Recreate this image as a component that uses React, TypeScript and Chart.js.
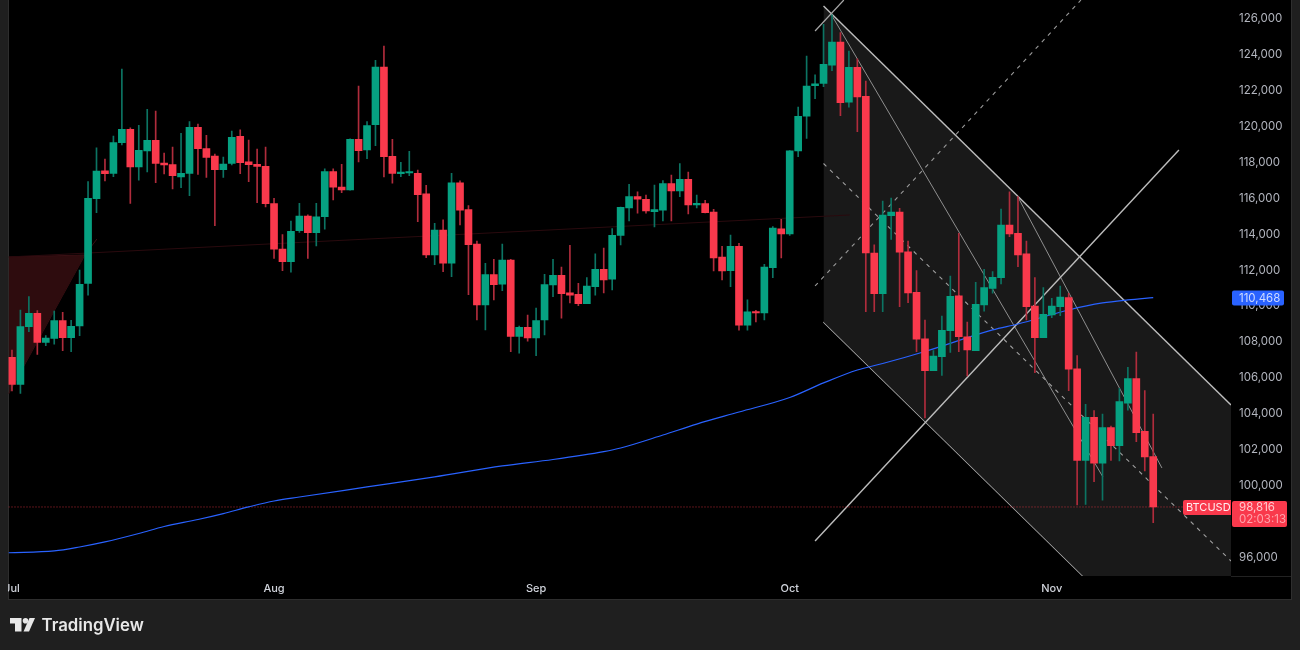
import { useEffect, useRef } from "react";
import { Chart, registerables, type Plugin } from "chart.js";

Chart.register(...registerables);

// daily BTCUSD candles, 1 Jul to 13 Nov
const opens = [
  107140, 105640, 108850, 109590, 107980, 108200, 109190, 108240, 108890, 111260,
  115970, 117530, 117380, 119090, 119830, 117740, 118630, 119220, 117960, 117870,
  117180, 117380, 119940, 118760, 118350, 117590, 117940, 119440, 118030, 117880,
  117770, 115700, 113170, 112470, 114190, 115010, 114080, 114970, 117480, 116620,
  116460, 119280, 118680, 120090, 123300, 118330, 117370, 117400, 117380, 116250,
  112840, 114230, 112390, 116850, 115360, 113450, 110060, 111750, 111210, 112560,
  108310, 108810, 108220, 109220, 111170, 111710, 110730, 110650, 110130, 111080,
  112040, 111500, 113930, 115460, 116090, 115940, 115250, 115340, 116810, 116400,
  117050, 115620, 115700, 115230, 112730, 111970, 113320, 108940, 109670, 109610,
  112130, 114290, 114010, 118630, 120570, 122260, 122390, 123410, 124690, 121340,
  123280, 121670, 112950, 110690, 115030, 115230, 113020, 110760, 108170, 106400,
  107180, 108630, 110560, 108290, 107520, 110060, 110980, 111580, 114510, 114040,
  112900, 110000, 108240, 109500, 109960, 110470, 106510, 101410, 103810, 101250,
  103230, 102230, 104600, 105960, 103030, 101620,
];
const closes = [
  105640, 108850, 109590, 107980, 108220, 109190, 108240, 108870, 111210, 115990,
  117510, 117370, 119090, 119830, 117740, 118660, 119220, 117940, 117850, 117250,
  117380, 119940, 118760, 118270, 117590, 117900, 119390, 117980, 117870, 117770,
  115700, 113170, 112470, 114160, 115010, 114080, 114970, 117480, 116620, 116460,
  119280, 118650, 120040, 123300, 118310, 117380, 117400, 117440, 116200, 112840,
  114230, 112390, 116850, 115340, 113410, 110060, 111750, 111190, 112560, 108310,
  108810, 108220, 109190, 111190, 111710, 110690, 110610, 110130, 111110, 112040,
  111450, 113930, 115490, 116090, 115940, 115290, 115360, 116810, 116400, 117050,
  115620, 115710, 115200, 112670, 111950, 113320, 108940, 109670, 109610, 112170,
  114340, 114010, 118630, 120560, 122240, 122370, 123450, 124690, 121320, 123280,
  121630, 112950, 110690, 115060, 115230, 112990, 110730, 108150, 106400, 107220,
  108650, 110540, 108290, 107550, 110090, 111020, 111600, 114510, 114010, 112840,
  109960, 108240, 109540, 110000, 110500, 106480, 101410, 103810, 101250, 103230,
  102230, 104680, 105960, 102950, 101600, 98816,
];
const highs = [
  107550, 109780, 110520, 109740, 108350, 109720, 109650, 109200, 112000, 116920,
  118810, 118180, 119460, 123190, 119910, 120060, 120950, 120850, 118510, 118850,
  119610, 120260, 120130, 119500, 118460, 118290, 119740, 119800, 119240, 118740,
  118850, 115990, 113970, 114730, 115710, 115070, 115710, 117630, 117630, 117880,
  119300, 122240, 120260, 123670, 124470, 119280, 118000, 118610, 117570, 116720,
  114600, 114790, 117380, 116960, 115590, 113620, 112380, 112600, 113450, 112600,
  108890, 109500, 109890, 111760, 112600, 112170, 113380, 111260, 111580, 112900,
  113230, 114310, 115500, 116770, 116350, 116180, 116730, 116980, 117290, 117920,
  117460, 116180, 115880, 115380, 113320, 113950, 113490, 110340, 109760, 112320,
  114420, 114820, 118650, 121070, 123910, 122860, 125680, 126200, 125210, 124190,
  123750, 122520, 113400, 115840, 116010, 115440, 113620, 111970, 109220, 107520,
  109440, 111670, 114040, 109110, 111320, 112040, 111910, 115400, 116360, 116090,
  113620, 111580, 111020, 110430, 111110, 110710, 107240, 104530, 104180, 103990,
  103320, 105420, 106590, 107440, 105290, 103990,
];
const lows = [
  105270, 105140, 108570, 107310, 107790, 107870, 107510, 107460, 108350, 110610,
  115200, 116960, 117200, 118960, 115710, 117010, 117460, 116870, 117350, 116510,
  116590, 116140, 117330, 117160, 114470, 117160, 117850, 117370, 116920, 115750,
  115510, 112650, 111970, 111890, 114100, 112650, 113340, 114270, 115900, 116310,
  116440, 118020, 118200, 118920, 117180, 116830, 117200, 117250, 114690, 112690,
  112300, 111910, 111630, 114510, 110630, 109220, 108670, 110340, 110850, 107460,
  107370, 108050, 107240, 108390, 110520, 109330, 110170, 110020, 110130, 110600,
  110730, 110890, 113400, 114730, 115160, 115160, 114400, 114730, 114730, 116090,
  115120, 115460, 115180, 111950, 111450, 111080, 108650, 108650, 109110, 109220,
  111580, 112670, 113930, 118310, 119330, 121540, 122210, 123100, 120590, 121060,
  119700, 109690, 109690, 109690, 113710, 109960, 110190, 107460, 103770, 106400,
  106140, 107420, 107460, 106110, 107510, 109720, 110710, 111230, 113860, 112190,
  109220, 106290, 108240, 109350, 109460, 105290, 98930, 98960, 100230, 99200,
  101410, 101380, 104210, 102450, 100820, 97940,
];

const DAY_MIN = -0.41;
const DAY_MAX = 144.2;

// moving average, read at these candle numbers
const maDays = [DAY_MIN, 5, 8, 11, 15, 18, 22, 25, 28, 31, 34, 42, 50, 58, 64, 70, 72, 77, 81, 86, 92, 96, 100, 103, 108, 116, 119, 125, 129, 132, 135];
const maValues = [96270, 96370, 96590, 96870, 97340, 97730, 98120, 98450, 98820, 99150, 99370, 99930, 100490, 101100, 101460, 101900, 102100, 102820, 103430, 104100, 104910, 105720, 106440, 106800, 107470, 108670, 109000, 109780, 110170, 110340, 110468];

const monthDays = [0, 31, 62, 92, 123];
const monthLabels = ["Jul", "Aug", "Sep", "Oct", "Nov"];
const priceTicks = [96000, 98000, 100000, 102000, 104000, 106000, 108000, 110000, 112000, 114000, 116000, 118000, 120000, 122000, 124000, 126000];

const lastPrice = 98816;
const maLast = 110468;

// drawings: [day, price] at each end
const channelTop = [[96, 126696], [DAY_MAX, 104492]];
const channelBottom = [[96, 109111], [DAY_MAX, 86906]];
const channelMid = [[96, 117931], [DAY_MAX, 95810]];
const crossSolid = [[95, 96923], [138.04, 118682]];
const crossDashed = [[95, 111114], [126.45, 127030]];
const crossShort = [[95, 125305], [98.4, 127030]];
const fanOne = [[96.88, 126251], [129.05, 100485]];
const fanTwo = [[119, 116067], [136.03, 100987]];
const wedgeTop = [[DAY_MIN, 112728], [8.63, 112839]];
const wedgeBottom = [[DAY_MIN, 105104], [8.63, 112839]];
const wedgeStub = [[8.63, 112839], [10.05, 113730]];
const faintTrend = [[DAY_MIN, 112728], [99.1, 115066]];
const priceLine = [[DAY_MIN, lastPrice], [138.5, lastPrice]];

const UP = "#06a181";
const DOWN = "#f9394c";
const UP_WICK = "#0c7463";
const DOWN_WICK = "#b02c3c";
const FRAME = "#1f1f1f";
const FONT = "Inter, Roboto, sans-serif";

const toPoints = (pts: number[][]) => pts.map(([x, y]) => ({ x, y }));

function lineSet(pts: number[][], color: string, width: number, order: number, extra = {}) {
  return {
    type: "line" as const,
    data: toPoints(pts),
    borderColor: color,
    borderWidth: width,
    pointRadius: 0,
    fill: false,
    order,
    ...extra,
  };
}

const framePlugin: Plugin = {
  id: "frame",
  beforeDraw(chart) {
    const { ctx, width, height } = chart;
    ctx.save();
    ctx.fillStyle = FRAME;
    ctx.fillRect(0, 0, width, height);
    ctx.fillStyle = "#000";
    ctx.fillRect(8.5, 0, 1283, 599);
    ctx.strokeStyle = "#2e2e2e";
    ctx.lineWidth = 1;
    ctx.strokeRect(8.5, -2, 1283, 601.5);
    const a = chart.chartArea;
    ctx.strokeStyle = "#222";
    ctx.beginPath();
    ctx.moveTo(a.right, a.bottom + 0.5);
    ctx.lineTo(1291, a.bottom + 0.5);
    ctx.stroke();
    ctx.restore();
  },
  afterDraw(chart) {
    const { ctx, chartArea: a } = chart;
    const y = chart.scales.y;
    ctx.save();
    // hides the part of "Jul" that runs past the pane
    ctx.fillStyle = FRAME;
    ctx.fillRect(0, a.bottom, 8, 24);

    // moving average tag
    const maY = y.getPixelForValue(maLast);
    ctx.fillStyle = "#2962ff";
    ctx.beginPath();
    ctx.roundRect(a.right + 1, maY - 7, 52, 15, 2);
    ctx.fill();
    ctx.font = `11.5px ${FONT}`;
    ctx.textBaseline = "middle";
    ctx.fillStyle = "#cfdbff";
    ctx.fillText(maLast.toLocaleString("en-US"), a.right + 8, maY + 0.5);

    // last price tags
    const pY = y.getPixelForValue(lastPrice);
    ctx.fillStyle = DOWN;
    ctx.beginPath();
    ctx.roundRect(a.right - 48, pY - 7, 48, 15, [2, 0, 0, 2]);
    ctx.fill();
    ctx.beginPath();
    ctx.roundRect(a.right + 1, pY - 6, 55, 26, 2);
    ctx.fill();
    ctx.fillStyle = "#ffeef0";
    ctx.font = `11px ${FONT}`;
    ctx.fillText("BTCUSD", a.right - 45, pY + 0.5);
    ctx.font = `11.5px ${FONT}`;
    ctx.fillStyle = "#ffc9ce";
    ctx.fillText(lastPrice.toLocaleString("en-US"), a.right + 8, pY + 0.5);
    ctx.fillStyle = "#ffa3ab";
    ctx.fillText("02:03:13", a.right + 8, pY + 12.5);

    // footer logo
    ctx.fillStyle = "#e8e8e8";
    ctx.beginPath();
    ctx.moveTo(10, 618);
    ctx.lineTo(21.5, 618);
    ctx.lineTo(21.5, 631.5);
    ctx.lineTo(15, 631.5);
    ctx.lineTo(15, 623.5);
    ctx.lineTo(10, 623.5);
    ctx.closePath();
    ctx.fill();
    ctx.beginPath();
    ctx.arc(25.5, 620.8, 2.8, 0, Math.PI * 2);
    ctx.fill();
    ctx.beginPath();
    ctx.moveTo(29.5, 618);
    ctx.lineTo(35, 618);
    ctx.lineTo(29, 631.5);
    ctx.lineTo(23.5, 631.5);
    ctx.closePath();
    ctx.fill();
    ctx.font = `600 16.8px ${FONT}`;
    ctx.fillText("TradingView", 41.5, 625.5);
    ctx.restore();
  },
};

export default function App() {
  const canvasRef = useRef<HTMLCanvasElement>(null);

  useEffect(() => {
    if (!canvasRef.current) return;
    const candleColors = (up: string, down: string) => closes.map((c, i) => (c >= opens[i] ? up : down));
    const chart = new Chart(canvasRef.current, {
      type: "bar",
      data: {
        datasets: [
          {
            data: opens.map((o, i) => ({ x: i, y: [o, closes[i]] })),
            backgroundColor: candleColors(UP, DOWN),
            barThickness: 7,
            minBarLength: 1.5,
            grouped: false,
            order: 0,
          },
          {
            data: lows.map((l, i) => ({ x: i, y: [l, highs[i]] })),
            backgroundColor: candleColors(UP_WICK, DOWN_WICK),
            barThickness: 1,
            grouped: false,
            order: 1,
          },
          lineSet(maDays.map((d, i) => [d, maValues[i]]), "#2962ff", 1.2, 2, { cubicInterpolationMode: "monotone" }),
          lineSet(priceLine, "rgba(242,54,69,0.75)", 1, 3, { borderDash: [1, 2] }),
          lineSet(crossSolid, "#bdbdbd", 1.4, 3),
          lineSet(crossShort, "#a8a8a8", 1.2, 3),
          lineSet(crossDashed, "#9a9a9a", 1.1, 3, { borderDash: [4, 5] }),
          lineSet(channelMid, "#a0a0a0", 1.1, 3, { borderDash: [4, 5] }),
          lineSet(fanOne, "#8f8f8f", 1, 3),
          lineSet(fanTwo, "#8f8f8f", 1, 3),
          lineSet(faintTrend, "#2a0a0e", 1, 3),
          lineSet(channelTop, "#bdbdbd", 1.4, 4, { fill: { target: "+1" }, backgroundColor: "#191919" }),
          lineSet(channelBottom, "#bdbdbd", 1.4, 4),
          lineSet(wedgeStub, "#3a1014", 1, 5),
          lineSet(wedgeTop, "#3a1014", 1, 6, { fill: { target: "+1" }, backgroundColor: "#2e0c0e" }),
          lineSet(wedgeBottom, "#3a1014", 1, 6),
        ],
      } as any,
      options: {
        responsive: false,
        devicePixelRatio: 1,
        animation: false,
        layout: { padding: { left: 8.5, right: 9, top: 0, bottom: 51 } },
        plugins: { legend: { display: false }, tooltip: { enabled: false } },
        scales: {
          x: {
            type: "linear",
            offset: false,
            min: DAY_MIN,
            max: DAY_MAX,
            grid: { display: false, drawTicks: false },
            border: { display: false },
            afterBuildTicks: (s: any) => {
              s.ticks = monthDays.map((value) => ({ value }));
            },
            afterFit: (s: any) => {
              s.height = 23;
              s.paddingLeft = 0;
              s.paddingRight = 0;
            },
            ticks: {
              autoSkip: false,
              maxRotation: 0,
              minRotation: 0,
              padding: 6,
              color: "#d1d4dc",
              font: { family: FONT, size: 11, weight: 500 },
              callback: (v: any) => monthLabels[monthDays.indexOf(Number(v))],
            },
          },
          y: {
            type: "linear",
            position: "right",
            min: 94975,
            max: 127030,
            grid: { display: false, drawTicks: false },
            border: { display: false },
            afterBuildTicks: (s: any) => {
              s.ticks = priceTicks.map((value) => ({ value }));
            },
            afterFit: (s: any) => {
              s.width = 60;
              s.paddingTop = 0;
              s.paddingBottom = 0;
            },
            ticks: {
              autoSkip: false,
              padding: 8,
              color: "#b2b5be",
              font: { family: FONT, size: 11.5 },
              callback: (v: any) => Number(v).toLocaleString("en-US"),
            },
          },
        },
      },
      plugins: [framePlugin],
    });
    return () => {
      chart.destroy();
    };
  }, []);

  return (
    <div style={{ position: "fixed", left: 0, top: 0, width: 1300, height: 650 }}>
      <canvas ref={canvasRef} width={1300} height={650} style={{ display: "block" }} />
    </div>
  );
}
